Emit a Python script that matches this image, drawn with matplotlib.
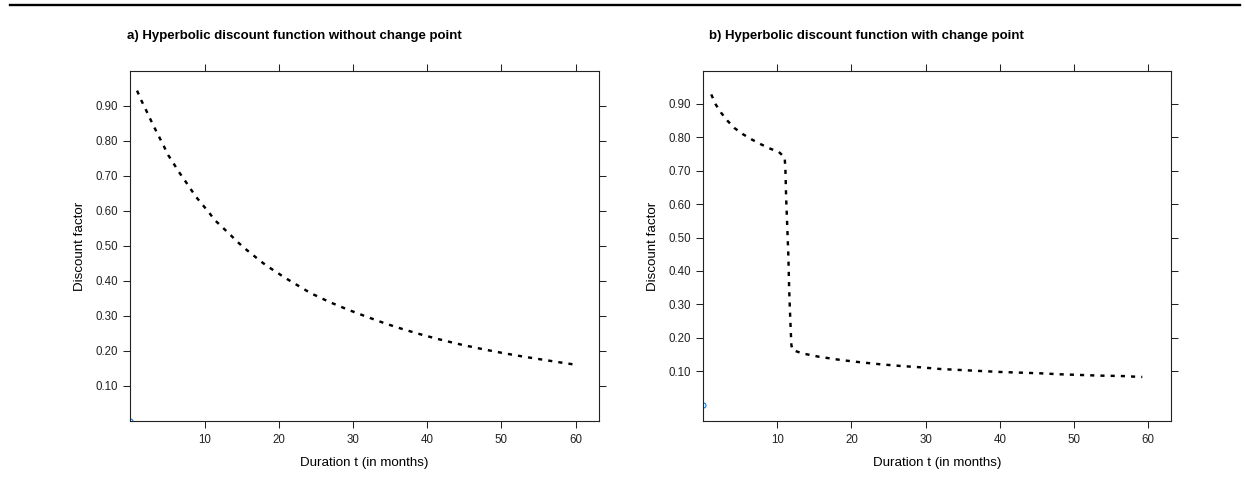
import matplotlib.pyplot as plt
from matplotlib.lines import Line2D

plt.rcParams['font.family'] = ['Liberation Sans', 'DejaVu Sans']

# discount factor by duration, plain hyperbolic curve
t_plain = [0.9, 1.5, 2.1, 2.7, 3.3, 3.9, 4.5, 5.1, 5.8, 6.5, 7.3, 8.1, 8.8, 9.7,
           10.6, 11.4, 12.4, 13.4, 14.4, 15.4, 16.4, 17.5, 18.5, 19.7, 20.6, 22.0,
           24.3, 26.8, 29.3, 31.8, 34.4, 36.9, 39.5, 42.2, 44.8, 47.5, 50.2, 52.9,
           55.6, 58.3, 59.6]
d_plain = [0.943, 0.914, 0.888, 0.861, 0.835, 0.810, 0.785, 0.759, 0.736, 0.712,
           0.688, 0.663, 0.641, 0.618, 0.595, 0.573, 0.553, 0.533, 0.512, 0.493,
           0.476, 0.457, 0.441, 0.425, 0.412, 0.394, 0.365, 0.340, 0.318, 0.298,
           0.278, 0.261, 0.245, 0.230, 0.217, 0.205, 0.194, 0.184, 0.175, 0.166,
           0.162]

# discount factor by duration, with the drop just after month 11
t_cp = [1.1, 1.7, 2.4, 3.3, 4.2, 5.3, 6.5, 7.7, 8.9, 10.2, 11.0, 11.1, 11.2,
        11.35, 11.5, 11.6, 11.75, 11.9, 12.05, 13.3, 15.5, 18.5, 21.2, 23.9, 26.6,
        29.3, 31.9, 34.6, 37.3, 40.1, 42.8, 45.5, 48.2, 50.9, 53.6, 56.3, 59.2]
d_cp = [0.928, 0.898, 0.874, 0.849, 0.828, 0.810, 0.794, 0.780, 0.767, 0.756,
        0.740, 0.702, 0.617, 0.532, 0.443, 0.348, 0.258, 0.179, 0.164, 0.154,
        0.144, 0.134, 0.127, 0.121, 0.116, 0.112, 0.107, 0.104, 0.101, 0.098,
        0.096, 0.094, 0.091, 0.089, 0.087, 0.086, 0.083]

# starting point shown as an open symbol
origin_t = [0]
origin_d = [0]

titles = ['a) Hyperbolic discount function without change point',
          'b) Hyperbolic discount function with change point']
x_ticks = [10, 20, 30, 40, 50, 60]
y_ticks = [0.1, 0.2, 0.3, 0.4, 0.5, 0.6, 0.7, 0.8, 0.9]
y_ticklabels = ['%.2f' % v for v in y_ticks]

W, H = 1245, 484
fig = plt.figure(figsize=(W / 100, H / 100), dpi=100)

# thick rule across the top of the page
fig.add_artist(Line2D([0.008, 0.996], [1 - 4.5 / H, 1 - 4.5 / H],
                      transform=fig.transFigure, color='black', lw=1.7))

panels = [
    dict(left=130, t=t_plain, d=d_plain, ylim=(0.0, 0.999), title_x=294),
    dict(left=702.7, t=t_cp, d=d_cp, ylim=(-0.0486, 0.998), title_x=866),
]

for p, title in zip(panels, titles):
    ax = fig.add_axes([p['left'] / W, (H - 421) / H, 468.5 / W, 350 / H])
    ax.plot(p['t'], p['d'], color='black', lw=1.75,
            linestyle=(0, (1.7, 2.5)), dash_capstyle='butt')
    ax.plot(origin_t, origin_d, 'o', mfc='none', mec='#0080ff', ms=3.6, mew=0.8)
    ax.set_xlim(-0.05, 63.1)
    ax.set_ylim(*p['ylim'])
    ax.set_xticks(x_ticks)
    ax.set_yticks(y_ticks)
    ax.set_yticklabels(y_ticklabels)
    ax.tick_params(direction='out', length=5, width=0.75, top=True, right=True,
                   labeltop=False, labelright=False, labelsize=8.3,
                   colors='#222222')
    ax.tick_params(axis='x', pad=4.5)
    ax.tick_params(axis='y', pad=3.5)
    for s in ax.spines.values():
        s.set_linewidth(0.8)
        s.set_color('#222222')
    ax.set_xlabel('Duration t (in months)', fontsize=9.6, labelpad=7.5)
    ax.set_ylabel('Discount factor', fontsize=9.6, labelpad=7)
    fig.text(p['title_x'] / W, 1 - 36 / H, title, ha='center', va='center',
             fontsize=9.5, fontweight='bold')

fig.savefig('out.png', dpi=100)
